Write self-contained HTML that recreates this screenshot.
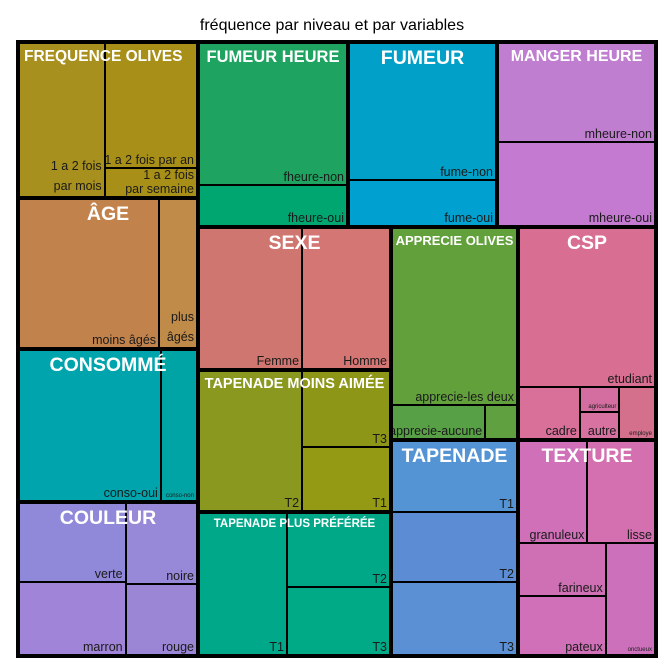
<!DOCTYPE html>
<html><head><meta charset="utf-8">
<style>
body{margin:0;background:#fff;width:664px;height:664px;overflow:hidden;position:relative;font-family:"Liberation Sans",sans-serif}
#title{position:absolute;left:0;width:664px;top:17px;text-align:center;font-size:16px;color:#000}
#plot{position:absolute;left:16px;top:40px;width:642px;height:618px;background:#000}
.cell{position:absolute}
.grp{position:absolute;overflow:hidden}
.lab{position:absolute;right:2px;bottom:0px;font-size:12.5px;color:#1a1a1a;text-align:right;line-height:13px;white-space:nowrap}
.glab{position:absolute;left:0;right:0;text-align:center;color:#fff;font-weight:bold;white-space:nowrap;z-index:2}
</style></head><body>
<div id="title">fréquence par niveau et par variables</div>
<div id="plot"></div>
<script>
// values per variable (cell sizes)
const freqLabels=["1 a 2 fois<br>par mois","1 a 2 fois par an","1 a 2 fois<br>par semaine"];
const freqValues=[50,44,10];
const ageLabels=["moins âgés","plus<br>âgés"];
const ageValues=[79,21];
const consoLabels=["conso-oui","conso-non"];
const consoValues=[80,20];
const couleurLabels=["verte","marron","noire","rouge"];
const couleurValues=[31,29,21.4,18.6];
const fheureLabels=["fheure-non","fheure-oui"];
const fheureValues=[78,22];
const fumeLabels=["fume-non","fume-oui"];
const fumeValues=[75,25];
const mheureLabels=["mheure-non","mheure-oui"];
const mheureValues=[54,46];
const sexeLabels=["Femme","Homme"];
const sexeValues=[54,46];
const tmaLabels=["T2","T3","T1"];
const tmaValues=[54,25,21];
const tppLabels=["T1","T2","T3"];
const tppValues=[46,28,26];
const appLabels=["apprecie-les deux","apprecie-aucune",""];
const appValues=[84,12,4];
const cspLabels=["etudiant","cadre","agriculteur","autre","employe"];
const cspValues=[75.6,10.9,3.5,3.7,6.3];
const tapLabels=["T1","T2","T3"];
const tapValues=[33,33,34];
const texLabels=["granuleux","lisse","farineux","pateux","onctueux"];
const texValues=[23.9,23.6,16.2,17.4,18.9];
const tinyLabels=["conso-non","agriculteur","employe","onctueux"];

// layout: group regions (plot-relative boundaries), split structure, colours
const groups=[
 {n:"FREQUENCE OLIVES",r:[0,0,182,158],fs:15.5,al:"left",L:freqLabels,V:freqValues,t:["x",0,["y",1,2]],c:["#a8901e","#a89018","#a89018"]},
 {n:"ÂGE",r:[0,158,182,309],fs:19.5,L:ageLabels,V:ageValues,t:["x",0,1],c:["#c2824c","#c08a48"]},
 {n:"CONSOMMÉ",r:[0,309,182,462],fs:19.5,L:consoLabels,V:consoValues,t:["x",0,1],c:["#00a4ac","#00a4a4"]},
 {n:"COULEUR",r:[0,462,182,618],fs:19.5,L:couleurLabels,V:couleurValues,t:["x",["y",0,1],["y",2,3]],c:["#9088d8","#a084d8","#9888d8","#9a86d4"]},
 {n:"FUMEUR HEURE",r:[182,0,332,187],fs:16.5,L:fheureLabels,V:fheureValues,t:["y",0,1],c:["#1ea460","#00a670"]},
 {n:"FUMEUR",r:[332,0,481,187],fs:19.5,L:fumeLabels,V:fumeValues,t:["y",0,1],c:["#00a0c8","#00a0d0"]},
 {n:"MANGER HEURE",r:[481,0,642,187],fs:16,L:mheureLabels,V:mheureValues,t:["y",0,1],c:["#c07ed0","#c47ad0"]},
 {n:"SEXE",r:[182,187,375,330],fs:19.5,L:sexeLabels,V:sexeValues,t:["x",0,1],c:["#d07670","#d47674"]},
 {n:"TAPENADE MOINS AIMÉE",r:[182,330,375,472],fs:14.5,L:tmaLabels,V:tmaValues,t:["x",0,["y",1,2]],c:["#8a9820","#8e9618","#949a14"]},
 {n:"TAPENADE PLUS PRÉFÉRÉE",r:[182,472,375,618],fs:11.5,L:tppLabels,V:tppValues,t:["x",0,["y",1,2]],c:["#00a88a","#00a888","#00aa86"]},
 {n:"APPRECIE OLIVES",r:[375,187,502,400],fs:13,L:appLabels,V:appValues,t:["y",0,["x",1,2]],c:["#62a03c","#58a046","#60a040"]},
 {n:"CSP",r:[502,187,642,400],fs:19.5,L:cspLabels,V:cspValues,t:["y",0,["x",1,["y",2,3],4]],c:["#d86e92","#d8709a","#d46ea0","#d872a0","#d4708c"]},
 {n:"TAPENADE",r:[375,400,502,618],fs:19.5,L:tapLabels,V:tapValues,t:["y",0,1,2],c:["#5494d4","#5c8cd4","#5c90d4"]},
 {n:"TEXTURE",r:[502,400,642,618],fs:19.5,L:texLabels,V:texValues,t:["y",["x",0,1],["x",["y",2,3],4]],c:["#d070b8","#d470b0","#d070b4","#d070b8","#cc70bc"]}
];
const plot=document.getElementById('plot');
function sum(node,V){return typeof node==="number"?V[node]:node.slice(1).reduce((a,k)=>a+sum(k,V),0);}
function layout(node,x,y,w,h,g,out){
 if(typeof node==="number"){out.push([node,x,y,w,h]);return;}
 const kids=node.slice(1),tot=sum(node,g.V);let p=0;
 kids.forEach(k=>{const f=sum(k,g.V)/tot;
  if(node[0]==="x"){layout(k,x+p,y,w*f,h,g,out);p+=w*f;}else{layout(k,x,y+p,w,h*f,g,out);p+=h*f;}});
}
function slug(s){return s.toLowerCase().normalize('NFD').replace(/[\u0300-\u036f]/g,'').replace(/<br>/g,' ').replace(/[^a-z0-9]+/g,'-').replace(/^-|-$/g,'');}
groups.forEach(g=>{
 const x0=g.r[0]+(g.r[0]===0?4:2),y0=g.r[1]+(g.r[1]===0?4:2);
 const x1=g.r[2]-(g.r[2]===642?4:2),y1=g.r[3]-(g.r[3]===618?4:2);
 const gd=document.createElement('div');gd.className='grp';
 gd.style.cssText=`left:${x0}px;top:${y0}px;width:${x1-x0}px;height:${y1-y0}px;background:#000`;
 
 
 plot.appendChild(gd);
 const out=[];layout(g.t,0,0,x1-x0,y1-y0,g,out);
 out.forEach(([i,x,y,w,h])=>{
  const c=document.createElement('div');c.className='cell';
  const W=x1-x0,H=y1-y0;
  const l=x<0.5?0:x+1,t=y<0.5?0:y+1,r=(x+w>W-0.5)?W:x+w-1,b=(y+h>H-0.5)?H:y+h-1;
  c.style.cssText=`left:${l}px;top:${t}px;width:${r-l}px;height:${b-t}px;background:${g.c[i]}`;
  
  
  const lb=document.createElement('div');lb.className='lab';lb.innerHTML=g.L[i];
  if(tinyLabels.indexOf(g.L[i])>=0){lb.style.fontSize='6px';lb.style.lineHeight='7px';}
  if(g.L[i].indexOf('<br>')>=0)lb.style.lineHeight=((b-t)<40?14:20)+'px';
  lb.style.zIndex=3;
  
  
  c.appendChild(lb);gd.appendChild(c);
 });
 const gl=document.createElement('div');gl.className='glab';gl.textContent=g.n;
 gl.style.fontSize=g.fs+'px';gl.style.top=(g.fs>=18?3:4)+'px';
 if(g.al==="left"){gl.style.textAlign='left';gl.style.left='4px';}
 
 
 gd.appendChild(gl);
});
</script>
</body></html>
